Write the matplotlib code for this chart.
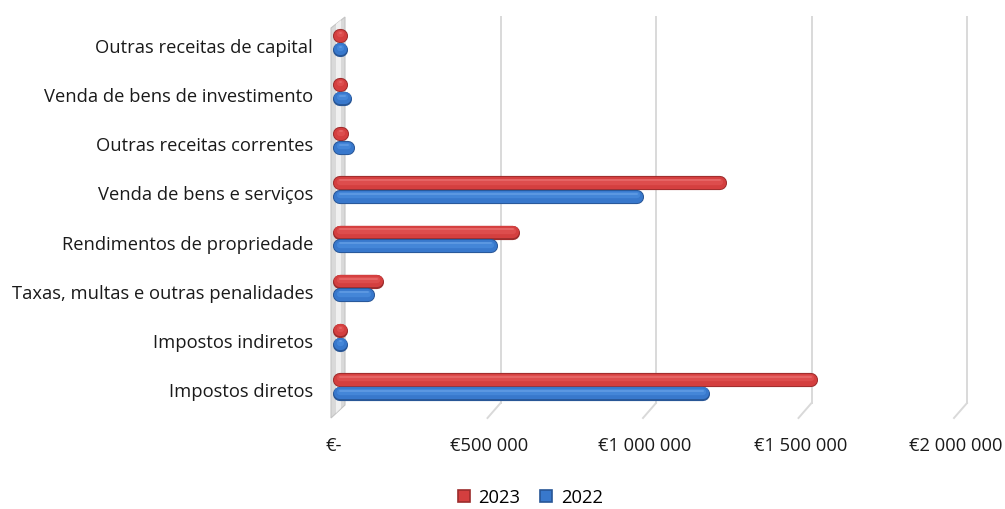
import numpy as np
import matplotlib.pyplot as plt
import matplotlib.patheffects as pe
from matplotlib.patches import Polygon
from matplotlib.lines import Line2D
from matplotlib.transforms import ScaledTranslation, blended_transform_factory

# Receitas por rubrica (euros)
categorias = ["Impostos diretos", "Impostos indiretos",
              "Taxas, multas e outras penalidades", "Rendimentos de propriedade",
              "Venda de bens e serviços", "Outras receitas correntes",
              "Venda de bens de investimento", "Outras receitas de capital"]
valores_2023 = [1513000, 4000, 119000, 556000, 1222000, 6000, 4000, 2000]
valores_2022 = [1167000, 3000, 90000, 486000, 954000, 25000, 15000, 2000]
anos = ["2023", "2022"]
marcas_x = [0, 500000, 1000000, 1500000, 2000000]
rotulos_x = ["€-", "€500 000", "€1 000 000", "€1 500 000", "€2 000 000"]

plt.rcParams['font.family'] = ['Open Sans', 'DejaVu Sans']
TAM = 13.2

W, H = 1005, 509
fig = plt.figure(figsize=(W / 100, H / 100), dpi=100)
ax = fig.add_axes([340 / W, (H - 405) / H, 622 / W, 388 / H])
ax.set_xlim(0, 2000000)
ax.set_ylim(-0.265, 7.63)
ax.axis('off')


def desloca(dx, dy=0):
    # deslocamento em pixeis
    return ScaledTranslation(dx / 100, dy / 100, fig.dpi_scale_trans)


def px(x, y):
    return (x / 100, (H - y) / 100)


# parede lateral (efeito 3D)
parede = Polygon([px(331, 28), px(345, 17), px(345, 405), px(331, 418)],
                 closed=True, transform=fig.dpi_scale_trans,
                 facecolor="#d9d9d9", edgecolor="#c4c4c4", lw=0.8, zorder=-2)
brilho = Polygon([px(336, 24), px(341, 20), px(341, 408), px(336, 413)],
                 closed=True, transform=fig.dpi_scale_trans,
                 facecolor="#f0f0f0", edgecolor="none", zorder=-1)
fig.add_artist(parede)
fig.add_artist(brilho)

# linhas de grelha na parede do fundo + linha do chão
trans_grade = blended_transform_factory(ax.transData, ax.transAxes)
px_dados = 2000000 / 622
for v in marcas_x[1:]:
    ax.plot([v, v], [0.005, 1], transform=trans_grade + desloca(5),
            color="#d9d9d9", lw=1.4, clip_on=False, zorder=0)
    ax.plot([v, v - 13 * px_dados], [0.005, -13 / 388],
            transform=trans_grade + desloca(5),
            color="#d9d9d9", lw=1.4, clip_on=False, zorder=0)

# barras cilíndricas
cores = {
    "2023": ("#9c2c2c", "#d43f3f", "#dd4d4d", "#e66565"),
    "2022": ("#285696", "#3878cc", "#4486d8", "#5c98e2"),
}
y = np.arange(len(categorias))
for serie, valores, dy in [("2023", valores_2023, 0.245), ("2022", valores_2022, -0.035)]:
    escuro, medio, claro, reflexo = cores[serie]
    for yi, v in zip(y, valores):
        ax.plot([0, v], [yi + dy, yi + dy], color=escuro, lw=10.2,
                solid_capstyle='round', zorder=3, clip_on=False,
                path_effects=[
                    pe.Stroke(linewidth=10.2, foreground=escuro),
                    pe.Stroke(linewidth=8.8, foreground=medio, offset=(0, 0.3)),
                    pe.Stroke(linewidth=4.6, foreground=claro, offset=(0, 1.2)),
                    pe.Stroke(linewidth=1.4, foreground=reflexo, offset=(0, 2.2)),
                ])

# rótulos das categorias
for yi, nome in zip(y, categorias):
    ax.text(0, yi, nome, ha='right', va='center', fontsize=TAM, color="#1a1a1a",
            transform=ax.transData + desloca(-27))

# rótulos do eixo dos valores
for v, rot in zip(marcas_x, rotulos_x):
    ax.text(v, -41 / 388, rot, ha='center', va='center', fontsize=TAM,
            color="#1a1a1a", transform=trans_grade + desloca(-6))

# legenda
alcas = [Line2D([], [], ls='none', marker='s', markersize=9,
                markerfacecolor=cores[a][1], markeredgecolor=cores[a][0],
                markeredgewidth=1.2) for a in anos]
fig.legend(alcas, anos, loc='center', bbox_to_anchor=(0.527, 0.022), ncol=2,
           frameon=False, fontsize=TAM, handlelength=0.8, handletextpad=0.4,
           columnspacing=1.0)

fig.savefig("out.png", dpi=100)
